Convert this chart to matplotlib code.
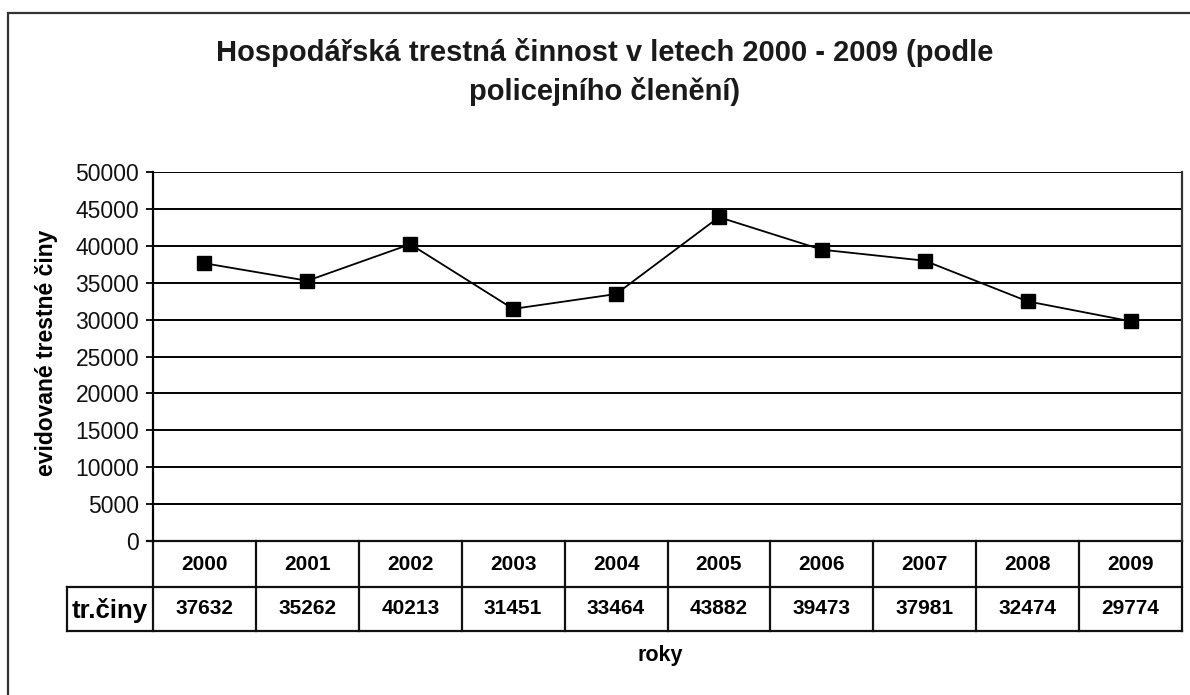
import matplotlib
matplotlib.use("Agg")
import matplotlib.pyplot as plt
from matplotlib.patches import Rectangle
import matplotlib.transforms as mtransforms

plt.rcParams['font.family'] = ['Liberation Sans', 'DejaVu Sans']

years = ['2000', '2001', '2002', '2003', '2004', '2005', '2006', '2007', '2008', '2009']
values = [37632, 35262, 40213, 31451, 33464, 43882, 39473, 37981, 32474, 29774]
row_label = 'tr.činy'
yticks = list(range(0, 50001, 5000))
title = 'Hospodářská trestná činnost v letech 2000 - 2009 (podle\npolicejního členění)'
ylabel = 'evidované trestné činy'
xlabel = 'roky'

W, H = 1190, 695
fig = plt.figure(figsize=(W / 100, H / 100), dpi=100)

# outer chart border
fig.patches.append(Rectangle((8 / W, -0.1), 1.2, (H - 13) / H + 0.1, transform=fig.transFigure,
                             fill=False, edgecolor='#333333', linewidth=1.6))

left, right, top, bottom = 153, 1182, 172, 541
ax = fig.add_axes([left / W, (H - bottom) / H, (right - left) / W, (bottom - top) / H])

n = len(years)
xs = [i + 0.5 for i in range(n)]
ax.set_xlim(0, n)
ax.set_ylim(0, 50000)
ax.set_yticks(yticks)
ax.set_yticklabels([str(t) for t in yticks], fontsize=16.5, color='#111111')
ax.tick_params(axis='y', length=5, width=1.3, pad=5, color='black')
ax.set_xticks([])
ax.grid(axis='y', color='black', linewidth=1.4)
ax.set_axisbelow(True)
for s in ['top', 'bottom']:
    ax.spines[s].set_visible(False)
ax.spines['left'].set_linewidth(1.6)
ax.spines['right'].set_linewidth(1.6)
ax.spines['right'].set_color('#333333')

ax.plot(xs, values, color='black', linewidth=1.3, marker='s', markersize=10,
        markerfacecolor='black', markeredgecolor='black', zorder=3)

# data table below the axis
trans = mtransforms.blended_transform_factory(ax.transData, ax.transAxes)
ah = bottom - top
r1 = -(587 - bottom) / ah
r2 = -(631 - bottom) / ah
lab_left = (67 - left) / ((right - left) / n)
lw = 1.6
kw = dict(transform=trans, clip_on=False, color='#111111', linewidth=lw, solid_capstyle='projecting')
ax.plot([-(6 / ((right - left) / n)), n], [0, 0], **kw)
ax.plot([lab_left, n], [r1, r1], **kw)
ax.plot([lab_left, n], [r2, r2], **kw)
for b in range(n + 1):
    ax.plot([b, b], [0, r2], **kw)
ax.plot([lab_left, lab_left], [r1, r2], **kw)

for i, (yr, v) in enumerate(zip(years, values)):
    ax.text(xs[i], r1 / 2, yr, transform=trans, ha='center', va='center', fontsize=15,
            fontweight='bold')
    ax.text(xs[i], (r1 + r2) / 2, str(v), transform=trans, ha='center', va='center', fontsize=15,
            fontweight='bold')
ax.text(lab_left / 2, (r1 + r2) / 2 - 0.005, row_label, transform=trans, ha='center', va='center',
        fontsize=18.5, fontweight='bold')

fig.text(660 / W, (H - 655) / H, xlabel, ha='center', va='center', fontsize=15.5, fontweight='bold')
fig.text(47 / W, (H - 353) / H, ylabel, ha='center', va='center', rotation=90, fontsize=16.5,
         fontweight='bold')
fig.text(605 / W, (H - 72) / H, title, ha='center', va='center', fontsize=21, fontweight='bold',
         linespacing=1.4, color='#1a1a1a')

fig.savefig('out.png', dpi=100)
